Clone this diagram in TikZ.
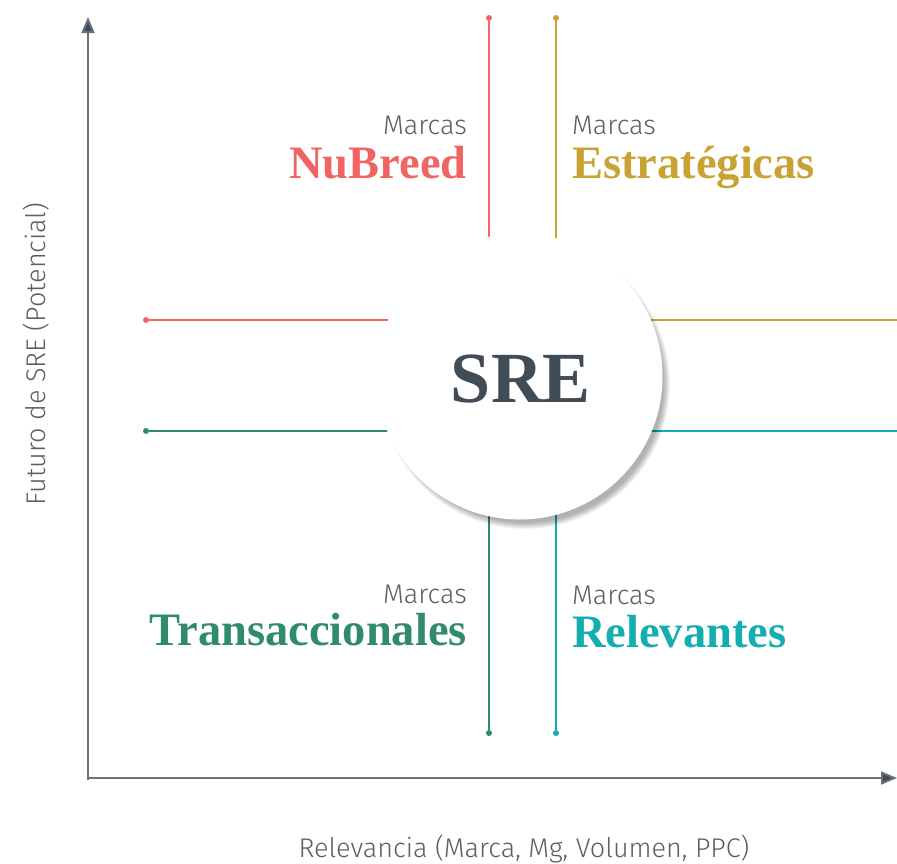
\documentclass[tikz,border=0pt]{standalone}
\usepackage{fontspec}
\setmainfont{Liberation Serif}
\newfontfamily\lightsans{Fira Sans Light}
\usetikzlibrary{arrows.meta}
\definecolor{cred}{HTML}{F06563}
\definecolor{cgold}{HTML}{C8A334}
\definecolor{cgreen}{HTML}{2F8C6A}
\definecolor{cteal}{HTML}{14AEB1}
\definecolor{caxis}{HTML}{6A727C}
\definecolor{ctip}{HTML}{3F4A54}
\definecolor{cgrey}{HTML}{5E5E5E}
\definecolor{csre}{HTML}{414C56}
\begin{document}
\begin{tikzpicture}[x=1pt,y=-1pt,
  guide/.style={line width=1.5pt},
  enddot/.style={circle,inner sep=0pt,minimum size=6pt},
  small/.style={font=\lightsans\fontsize{27}{30}\selectfont,text=cgrey,inner sep=0pt},
  big/.style={font=\bfseries\fontsize{46.5}{50}\selectfont,inner sep=0pt},
  axis/.style={line width=2pt,draw=caxis,-{Triangle[width=13pt,length=16pt,fill=ctip]}}]
\useasboundingbox (0,0) rectangle (897,863);
% axes
\coordinate (o) at (88,778);
\coordinate (ytop) at (88,17);
\coordinate (xend) at (897,778);
\draw[axis] (88,780) -- (ytop);
\draw[axis] (o) -- (xend);
\node[small,rotate=90,anchor=base] (ylab) at (45,354) {Futuro de SRE (Potencial)};
\node[small,anchor=base] (xlab) at (524,857) {Relevancia (Marca, Mg, Volumen, PPC)};
% guide lines
\node[enddot,fill=cred] (rt) at (489,18) {};
\node[enddot,fill=cgold] (gt) at (556,18) {};
\node[enddot,fill=cgreen] (gb) at (489,733) {};
\node[enddot,fill=cteal] (tb) at (556,733) {};
\node[enddot,fill=cred] (rl) at (146,320) {};
\node[enddot,fill=cgreen] (gl) at (146,431) {};
\coordinate (cr) at (897,320);
\coordinate (tr) at (897,431);
\draw[guide,cred] (rt) -- (489,300);
\draw[guide,cgold] (gt) -- (556,300);
\draw[guide,cgreen] (gb) -- (489,450);
\draw[guide,cteal] (tb) -- (556,450);
\draw[guide,cred] (rl) -- (500,320);
\draw[guide,cgreen] (gl) -- (500,431);
\draw[guide,cgold] (cr) -- (540,320);
\draw[guide,cteal] (tr) -- (540,431);
% circle with soft shadow
\foreach \i in {0,1,...,9}{
  \fill[black,opacity=0.035] (525,384) circle ({145-0.7*\i});
}
\node[circle,fill=white,minimum size=286pt,inner sep=0pt] (sre) at (519.5,376.5) {};
\node[font=\bfseries\fontsize{72}{76}\selectfont,text=csre,inner sep=0pt,anchor=base] (sretxt) at (521,402) {SRE};
% labels
\node[small,anchor=base east] (m1) at (467,134) {Marcas};
\node[big,anchor=base east,text=cred] (nb) at (467,178) {NuBreed};
\node[small,anchor=base west] (m2) at (572,134) {Marcas};
\node[big,anchor=base west,text=cgold] (es) at (572,178) {Estratégicas};
\node[small,anchor=base east] (m3) at (467,603) {Marcas};
\node[big,anchor=base east,text=cgreen] (tr2) at (467,645) {Transaccionales};
\node[small,anchor=base west] (m4) at (572,604) {Marcas};
\node[big,anchor=base west,text=cteal] (rv) at (572,647) {Relevantes};
\end{tikzpicture}
\end{document}
